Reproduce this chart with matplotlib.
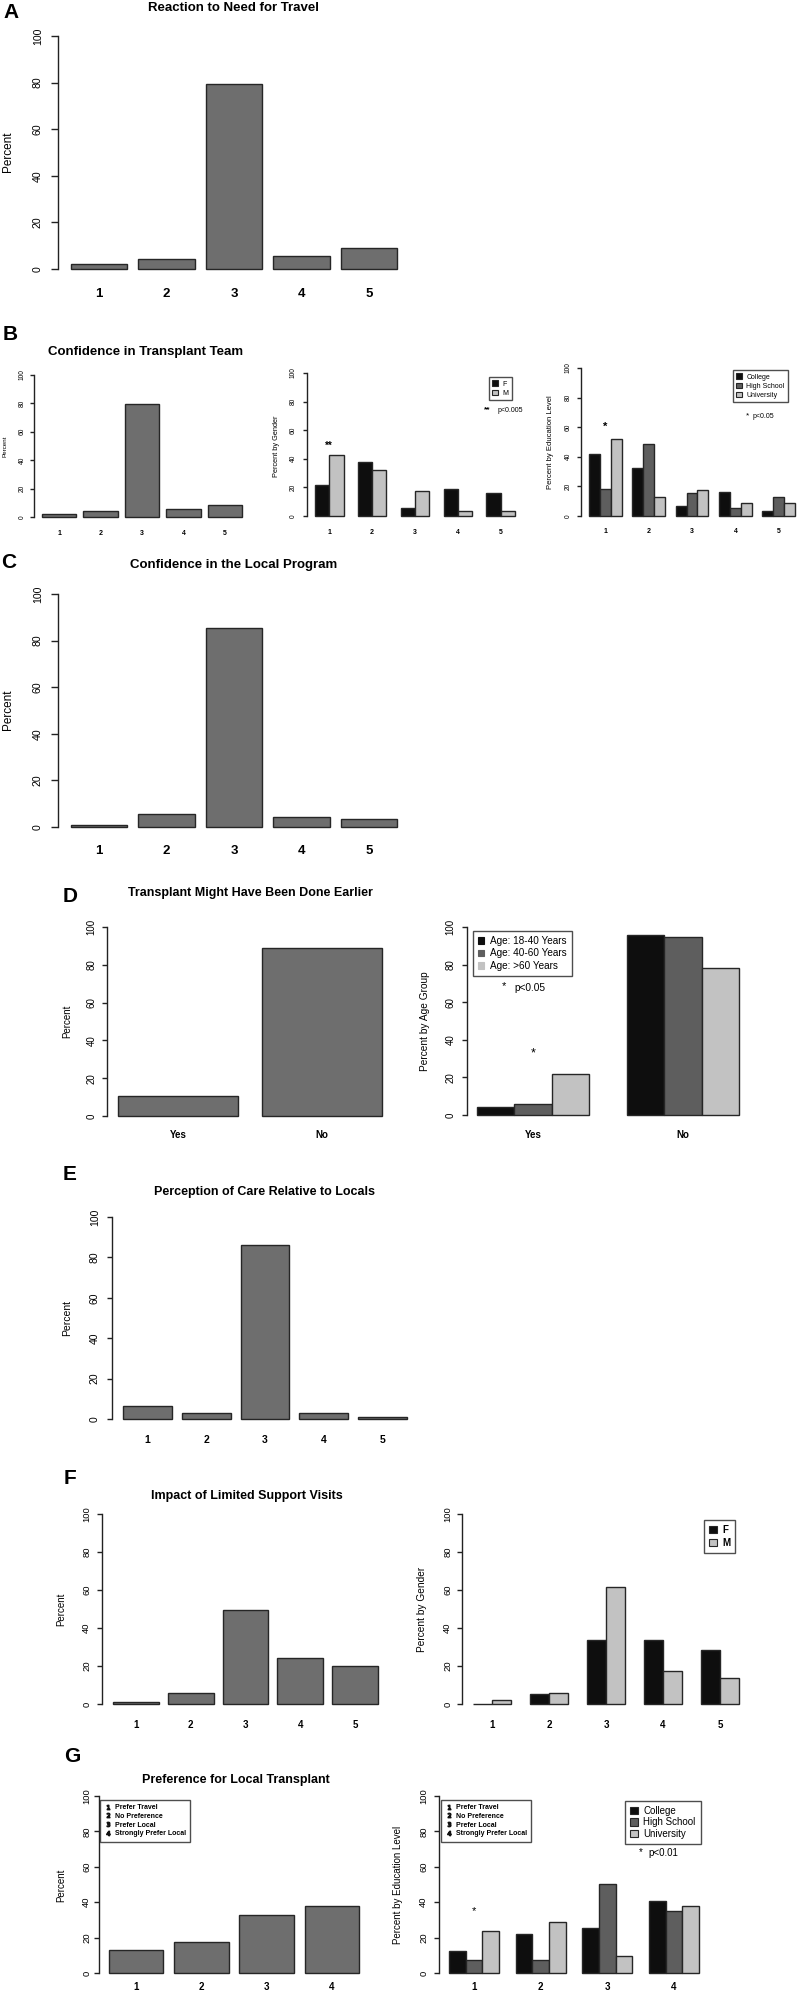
import matplotlib
matplotlib.use('Agg')
import matplotlib.pyplot as plt
from matplotlib.patches import Patch
from matplotlib.lines import Line2D

plt.rcParams['font.family'] = ['Liberation Sans', 'DejaVu Sans']

W, H = 800, 1995
fig = plt.figure(figsize=(W / 100, H / 100), dpi=100)

# ---------------- data ----------------
likert5 = ['1', '2', '3', '4', '5']
travel_reaction = [2.1, 4.4, 79.5, 5.4, 8.8]

team_conf = [2.3, 4.5, 79.6, 5.4, 8.7]
team_conf_F = [21.9, 37.9, 5.5, 18.9, 16.2]
team_conf_M = [43.0, 32.1, 17.8, 3.7, 3.7]
team_conf_college = [42.0, 32.3, 6.5, 16.3, 3.3]
team_conf_highschool = [18.2, 48.8, 15.6, 5.1, 12.9]
team_conf_university = [52.1, 13.1, 17.5, 8.7, 8.7]

local_conf = [1.0, 5.4, 85.4, 4.3, 3.3]

earlier_cats = ['Yes', 'No']
earlier = [10.8, 89.0]
earlier_18_40 = [4.3, 96.0]
earlier_40_60 = [5.7, 94.5]
earlier_60 = [22.0, 78.1]

care_rel = [6.6, 3.1, 86.1, 3.1, 1.1]

support = [1.3, 5.6, 49.5, 24.4, 20.0]
support_F = [0.2, 5.3, 33.6, 33.6, 28.4]
support_M = [2.1, 5.8, 61.4, 17.4, 13.5]

pref_cats = ['1', '2', '3', '4']
pref_labels = ['Prefer Travel', 'No Preference', 'Prefer Local', 'Strongly Prefer Local']
pref = [12.9, 17.3, 32.5, 37.9]
pref_college = [12.6, 22.1, 25.3, 40.9]
pref_highschool = [7.5, 7.5, 50.1, 35.3]
pref_university = [23.8, 28.7, 9.8, 38.1]

gender_labels = ['F', 'M']
edu_labels = ['College', 'High School', 'University']
age_labels = ['Age: 18-40 Years', 'Age: 40-60 Years', 'Age: >60 Years']

# ---------------- styles ----------------
GRAY = '#6e6e6e'
EDGE = '#262626'
C_BLACK = '#0e0e0e'
C_DARK = '#5e5e5e'
C_LIGHT = '#c2c2c2'
PT = 100 / 72.0  # px per point


def make_axes(bar_l, bar_r, y0, y100, xmin, xmax, cats, centers,
              xfs, xcy, yfs, ycx, ticklen, xbold=True):
    span = bar_r - bar_l
    left = bar_l - 0.04 * span
    right = bar_r + 0.04 * span
    ppy = (y0 - y100) / 100.0
    bottom = y0 + 4 * ppy
    top = y100 - 4 * ppy
    ax = fig.add_axes([left / W, 1 - bottom / H, (right - left) / W, (bottom - top) / H])
    r = xmax - xmin
    ax.set_xlim(xmin - 0.04 * r, xmax + 0.04 * r)
    ax.set_ylim(-4, 104)
    for s in ['top', 'right', 'bottom']:
        ax.spines[s].set_visible(False)
    ax.spines['left'].set_bounds(0, 100)
    ax.spines['left'].set_color('#222222')
    ax.spines['left'].set_linewidth(1.0)
    ax.set_yticks([0, 20, 40, 60, 80, 100])
    ax.set_yticklabels(['0', '20', '40', '60', '80', '100'], rotation=90, va='center', fontsize=yfs)
    ypad = (left - ticklen - ycx - 0.55 * yfs * PT) / PT
    ax.tick_params(axis='y', length=ticklen / PT, width=1.0, color='#222222', pad=max(ypad, 0.5))
    ax.set_xticks(centers)
    ax.set_xticklabels(cats, fontsize=xfs, fontweight='bold' if xbold else 'normal')
    xpad = (xcy - bottom - 0.36 * xfs * PT) / PT
    ax.tick_params(axis='x', length=0, pad=xpad)
    return ax


def simple_panel(vals, cats, bar_l, bar_r, y0, y100, **kw):
    n = len(vals)
    lefts = [0.2 + 1.2 * i for i in range(n)]
    centers = [l + 0.5 for l in lefts]
    ax = make_axes(bar_l, bar_r, y0, y100, 0.2, lefts[-1] + 1, cats, centers, **kw)
    ax.bar(lefts, vals, width=1.0, align='edge', color=GRAY, edgecolor=EDGE, linewidth=1.0)
    return ax


def grouped_panel(series, colors, cats, bar_l, bar_r, y0, y100, **kw):
    k = len(series)
    g = len(cats)
    starts = [1 + i * (k + 1) for i in range(g)]
    centers = [s + k / 2.0 for s in starts]
    ax = make_axes(bar_l, bar_r, y0, y100, 1, starts[-1] + k, cats, centers, **kw)
    for j, (vals, col) in enumerate(zip(series, colors)):
        ax.bar([s + j for s in starts], vals, width=1.0, align='edge',
               color=col, edgecolor=EDGE, linewidth=1.0)
    return ax, centers


def ftext(x, y, s, fs, bold=False, ha='center', va='center', rot=0):
    fig.text(x / W, 1 - y / H, s, fontsize=fs, fontweight='bold' if bold else 'normal',
             ha=ha, va=va, rotation=rot)


def box_legend(ax, handles, labels, x, y, fs, bold=False, **kw):
    leg = ax.legend(handles, labels, loc='upper left', bbox_to_anchor=(x / W, 1 - y / H),
                    bbox_transform=fig.transFigure, frameon=True, fancybox=False,
                    edgecolor='#222222', borderaxespad=0,
                    prop={'size': fs, 'weight': 'bold' if bold else 'normal'}, **kw)
    leg.get_frame().set_linewidth(1.0)
    leg.set_zorder(5)
    return leg


def patch_handles(colors, border=True):
    return [Patch(facecolor=c, edgecolor=EDGE if border else c, linewidth=0.8) for c in colors]


# ---------------- Panel A ----------------
ftext(11, 12, 'A', 15, bold=True)
ftext(234, 8, 'Reaction to Need for Travel', 9.5, bold=True)
simple_panel(travel_reaction, likert5, 71, 397, 269, 36,
             xfs=9.5, xcy=293, yfs=7.6, ycx=37, ticklen=7)
ftext(8, 152, 'Percent', 8.5, rot=90)

# ---------------- Panel B ----------------
ftext(10, 335, 'B', 15, bold=True)
ftext(146, 352, 'Confidence in Transplant Team', 9.5, bold=True)
simple_panel(team_conf, likert5, 42, 242, 517, 375,
             xfs=5, xcy=532, yfs=4.8, ycx=22, ticklen=4)
ftext(5, 446, 'Percent', 4.5, rot=90)

axb2, cb2 = grouped_panel([team_conf_F, team_conf_M], [C_BLACK, C_LIGHT], likert5,
                          315, 515, 516, 373, xfs=5, xcy=532, yfs=4.8, ycx=293, ticklen=4)
ftext(276, 446, 'Percent by Gender', 5.3, rot=90)
axb2.text(cb2[0], 49, '**', fontsize=7, ha='center', va='center', fontweight='bold')
box_legend(axb2, patch_handles([C_BLACK, C_LIGHT]), gender_labels, 489, 377, 5,
           handlelength=0.8, handleheight=0.8, handletextpad=0.6, labelspacing=0.3, borderpad=0.5)
ftext(487, 410, '**', 6, bold=True)
ftext(498, 411, 'p<0.005', 5, ha='left')

axb3, cb3 = grouped_panel([team_conf_college, team_conf_highschool, team_conf_university],
                          [C_BLACK, C_DARK, C_LIGHT], likert5,
                          589, 795, 516, 368, xfs=5, xcy=530, yfs=4.8, ycx=568, ticklen=4)
ftext(550, 442, 'Percent by Education Level', 5.5, rot=90)
axb3.text(cb3[0], 60, '*', fontsize=8, ha='center', va='center', fontweight='bold')
box_legend(axb3, patch_handles([C_BLACK, C_DARK, C_LIGHT]), edu_labels, 733, 370, 5,
           handlelength=0.8, handleheight=0.8, handletextpad=0.6, labelspacing=0.3, borderpad=0.5)
ftext(748, 416, '*', 6)
ftext(753, 416, 'p<0.05', 5, ha='left')

# ---------------- Panel C ----------------
ftext(9, 563, 'C', 15, bold=True)
ftext(234, 565, 'Confidence in the Local Program', 9.5, bold=True)
simple_panel(local_conf, likert5, 71, 397, 827, 594,
             xfs=9.5, xcy=850, yfs=7.6, ycx=37, ticklen=7)
ftext(8, 710, 'Percent', 8.5, rot=90)

# ---------------- Panel D ----------------
ftext(70, 897, 'D', 15, bold=True)
ftext(250, 893, 'Transplant Might Have Been Done Earlier', 9, bold=True)
simple_panel(earlier, earlier_cats, 118, 382, 1116, 927,
             xfs=7, xcy=1134, yfs=7, ycx=91, ticklen=5)
ftext(67, 1021, 'Percent', 7, rot=90)

axd2, cd2 = grouped_panel([earlier_18_40, earlier_40_60, earlier_60],
                          [C_BLACK, C_DARK, C_LIGHT], earlier_cats,
                          477, 739, 1115, 927, xfs=7, xcy=1134, yfs=7, ycx=450, ticklen=5)
ftext(425, 1021, 'Percent by Age Group', 7.3, rot=90)
axd2.text(cd2[0], 33, '*', fontsize=9, ha='center', va='center')
box_legend(axd2, patch_handles([C_BLACK, C_DARK, C_LIGHT], border=False), age_labels, 473, 931, 7.2,
           handlelength=0.6, handleheight=0.6, handletextpad=0.6, labelspacing=0.25, borderpad=0.5)
ftext(504, 986, '*', 8)
ftext(514, 988, 'p<0.05', 7.3, ha='left')

# ---------------- Panel E ----------------
ftext(70, 1175, 'E', 15, bold=True)
ftext(264, 1192, 'Perception of Care Relative to Locals', 9, bold=True)
simple_panel(care_rel, likert5, 123, 407, 1419, 1217,
             xfs=7.5, xcy=1439, yfs=7.5, ycx=94, ticklen=5)
ftext(67, 1318, 'Percent', 7.5, rot=90)

# ---------------- Panel F ----------------
ftext(70, 1479, 'F', 15, bold=True)
ftext(247, 1496, 'Impact of Limited Support Visits', 9, bold=True)
simple_panel(support, likert5, 113, 378, 1704, 1514,
             xfs=7, xcy=1723, yfs=6.8, ycx=86, ticklen=5)
ftext(61, 1609, 'Percent', 7, rot=90)

axf2, cf2 = grouped_panel([support_F, support_M], [C_BLACK, C_LIGHT], likert5,
                          473, 739, 1704, 1514, xfs=7, xcy=1723, yfs=6.8, ycx=447, ticklen=5)
ftext(422, 1609, 'Percent by Gender', 7.3, rot=90)
box_legend(axf2, patch_handles([C_BLACK, C_LIGHT]), gender_labels, 704, 1520, 7, bold=True,
           handlelength=0.8, handleheight=0.8, handletextpad=0.6, labelspacing=0.3, borderpad=0.5)

# ---------------- Panel G ----------------
ftext(72, 1757, 'G', 15, bold=True)
ftext(236, 1780, 'Preference for Local Transplant', 9, bold=True)
axg1 = simple_panel(pref, pref_cats, 109, 359, 1973, 1796,
                    xfs=7, xcy=1986, yfs=6.8, ycx=86, ticklen=5)
ftext(61, 1885, 'Percent', 7, rot=90)
num_handles = [Line2D([], [], marker='$%s$' % c, linestyle='none', color='#111111', markersize=3.2)
               for c in pref_cats]
box_legend(axg1, num_handles, pref_labels, 100, 1800, 5, bold=True,
           handlelength=1.2, handletextpad=0.3, labelspacing=0.25, borderpad=0.6)

axg2, cg2 = grouped_panel([pref_college, pref_highschool, pref_university],
                          [C_BLACK, C_DARK, C_LIGHT], pref_cats,
                          449, 699, 1973, 1796, xfs=7, xcy=1986, yfs=6.8, ycx=423, ticklen=5)
ftext(398, 1885, 'Percent by Education Level', 7, rot=90)
axg2.text(cg2[0], 35, '*', fontsize=8, ha='center', va='center')
leg_txt = box_legend(axg2, num_handles, pref_labels, 441, 1800, 5, bold=True,
                     handlelength=1.2, handletextpad=0.3, labelspacing=0.25, borderpad=0.6)
axg2.add_artist(leg_txt)
box_legend(axg2, patch_handles([C_BLACK, C_DARK, C_LIGHT]), edu_labels, 625, 1801, 7,
           handlelength=0.8, handleheight=0.8, handletextpad=0.6, labelspacing=0.15, borderpad=0.5)
ftext(641, 1852, '*', 7)
ftext(648, 1853, 'p<0.01', 7, ha='left')

fig.savefig('out.png', dpi=100)
